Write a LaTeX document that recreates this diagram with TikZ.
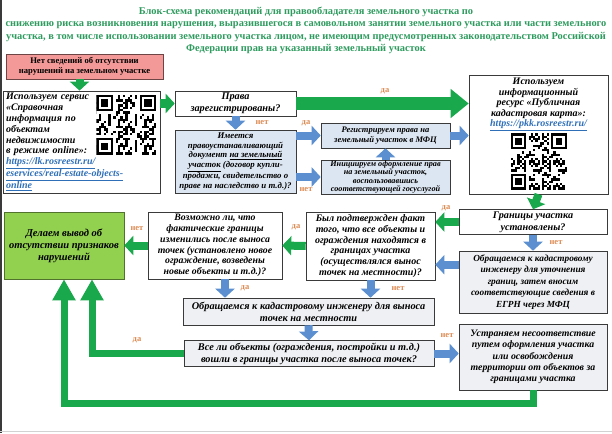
\documentclass[tikz,border=0pt]{standalone}
\usepackage{fontspec}
\setmainfont{Liberation Serif}
\usepackage{tikz}
\usetikzlibrary{positioning,arrows.meta,calc}
\definecolor{titlegreen}{HTML}{2E9B5E}
\definecolor{flowgreen}{HTML}{19A84C}
\definecolor{flowblue}{HTML}{5B8FD0}
\definecolor{bluewash}{HTML}{DCE6F2}
\definecolor{graywash}{HTML}{EEF0F3}
\definecolor{leafgreen}{HTML}{92D050}
\definecolor{alarm}{HTML}{F39A98}
\definecolor{answer}{HTML}{DC8A52}
\definecolor{edge}{HTML}{3A3A3A}
\definecolor{linkblue}{HTML}{2F6FB8}
\newcommand{\weblink}[1]{{\color{linkblue}\underline{#1}}}
\tikzset{
  card/.style n args={2}{draw=edge,line width=0.6pt,align=center,inner sep=2pt,
    font=\bfseries\itshape\fontsize{#1}{#2}\selectfont},
  answ/.style={text=answer,font=\bfseries\fontsize{8.5}{9}\selectfont,inner sep=0pt},
  flowg/.style={draw=flowgreen,line width=8pt,-{Triangle[length=9pt,width=19pt]}},
  flowb/.style={draw=flowblue,line width=8pt,-{Triangle[length=9pt,width=19pt]}},
  bigflow/.style={draw=flowgreen,line width=13pt,-{Triangle[length=18pt,width=28pt]}},
  backflow/.style={draw=flowgreen,line width=7pt,-{Triangle[length=21pt,width=22pt]}},
  pics/qr/.style={code={
    \begin{scope}
    \clip (0,0) rectangle (25,25);
    \fill[white] (0,0) rectangle (25,25);
    \foreach \i in {0,...,24}{
      \foreach \j in {0,...,24}{
        \pgfmathtruncatemacro\qrbit{mod(\i*\i*7+\j*\j*3+\i*\j*5+\i+#1*\j,11)<5}
        \ifnum\qrbit=1 \fill[black] (\i,\j) rectangle ++(1,1);\fi
      }
    }
    \foreach \fx/\fy in {0/0,18/0,0/18}{
      \fill[white] (\fx-1,\fy-1) rectangle ++(9,9);
      \fill[black] (\fx,\fy) rectangle ++(7,7);
      \fill[white] (\fx+1,\fy+1) rectangle ++(5,5);
      \fill[black] (\fx+2,\fy+2) rectangle ++(3,3);
    }
    \end{scope}
  }}
}

\begin{document}
\begin{tikzpicture}[x=1pt,y=-1pt]
\useasboundingbox (0,0) rectangle (612,433);
\draw[edge,line width=1.5pt] (0.75,0) -- (0.75,433);
\draw[gray!35,line width=1pt] (0,431) -- (612,431);

\node[text=titlegreen,font=\bfseries\fontsize{10.4}{12.4}\selectfont,align=center] (title) at (306,30.5)
  {Блок-схема рекомендаций для правообладателя земельного участка по\\
   снижению риска возникновения нарушения, выразившегося в самовольном занятии земельного участка или части земельного\\
   участка, в том числе использовании земельного участка лицом, не имеющим предусмотренных законодательством Российской\\
   Федерации прав на указанный земельный участок};

\node[card={8.6}{10},font=\bfseries\fontsize{8.6}{10}\selectfont,fill=alarm,draw=alarm!45!black,minimum width=157pt,minimum height=25pt] (nodata) at (84.5,66.5)
  {Нет сведений об отсутствии\\нарушений на земельном участке};

\node[card={10}{10.9},align=left,inner xsep=3pt,text width=151pt,minimum height=100pt] (lookup) at (81.5,142)
  {Используем сервис\\«Справочная\\информация по\\объектам\\недвижимости\\в режиме online»:\\
   \weblink{https://lk.rosreestr.ru/}\\\weblink{eservices/real-estate-objects-}\\\weblink{online}};
\pic[scale=2.4] at ($(lookup.north east)+(-64,4)$) {qr=3};

\node[card={10.3}{12},minimum width=121pt,minimum height=25pt] (prava) at (235.5,103.5)
  {Права\\зарегистрированы?};
\node[card={8.8}{9.8},fill=bluewash,inner sep=1pt,minimum width=121pt,minimum height=63pt] (imeet) at (235.5,161.5)
  {Имеется\\правоустанавливающий\\документ \underline{на земельный}\\\underline{участок} (договор купли-\\продажи, свидетельство о\\праве на наследство и т.д.)?};
\node[card={8.5}{10.5},fill=bluewash,minimum width=129pt,minimum height=25pt] (reg) at (385.5,135.5)
  {Регистрируем права на\\земельный участок в МФЦ};
\node[card={8.2}{8.4},fill=bluewash,inner ysep=0.5pt,inner xsep=1pt,minimum width=129pt,minimum height=34pt] (init) at (385.5,177)
  {Инициируем оформление прав\\на земельный участок,\\воспользовавшись\\соответствующей госуслугой};

\node[card={10}{10.5},minimum width=139pt,minimum height=119pt] (cadmap) at (538.5,134.5) {};
\node[card={10}{10.5},draw=none,below=1pt of cadmap.north] (cadtext)
  {Используем\\информационный\\ресурс «Публичная\\кадастровая карта»:\\\weblink{https://pkk.rosreestr.ru/}};
\pic[scale=2.25] at ($(cadmap.south)+(-28,-61)$) {qr=7};

\node[card={10.2}{12},minimum width=148pt,minimum height=24pt] (gran) at (533,222)
  {Границы участка\\установлены?};
\node[card={9.3}{11.6},fill=graywash,minimum width=148pt,minimum height=62pt] (obr1) at (533,282)
  {Обращаемся к кадастровому\\инженеру для уточнения\\границ, затем вносим\\соответствующие сведения в\\ЕГРН через МФЦ};
\node[card={10}{10.8},minimum width=129pt,minimum height=68pt] (byl) at (370.5,246)
  {Был подтвержден факт\\того, что все объекты и\\ограждения находятся в\\границах участка\\(осуществлялся вынос\\точек на местности)?};
\node[card={9.8}{10.8},minimum width=134pt,minimum height=67pt] (voz) at (215,245.5)
  {Возможно ли, что\\фактические границы\\изменились после выноса\\точек (установлено новое\\ограждение, возведены\\новые объекты и т.д.)?};
\node[card={10.5}{12},fill=leafgreen,draw=leafgreen!55!black,minimum width=120pt,minimum height=67pt] (verdict) at (64,245.5)
  {Делаем вывод об\\отсутствии признаков\\нарушений};
\node[card={10.3}{12},fill=graywash,minimum width=251pt,minimum height=27pt] (obr2) at (308.5,311.5)
  {Обращаемся к кадастровому инженеру для выноса\\точек на местности};
\node[card={10.3}{12},fill=graywash,minimum width=250pt,minimum height=25pt] (vse) at (309,353.5)
  {Все ли объекты (ограждения, постройки и т.д.)\\вошли в границы участка после выноса точек?};
\node[card={9.8}{11.4},fill=graywash,minimum width=148pt,minimum height=66pt] (ustr) at (533,357)
  {Устраняем несоответствие\\путем оформления участка\\или освобождения\\территории от объектов за\\границами участка};

\draw[flowg] ([xshift=-5]nodata.south) -- ([xshift=-5]nodata.south |- lookup.north);
\draw[flowg] (lookup.east |- prava.west) -- (prava.west);
\draw[bigflow] (prava.east) -- (prava.east -| cadmap.west);
\draw[flowb] (prava.south) -- (imeet.north);
\draw[flowb] (imeet.east |- reg.west) -- (reg.west);
\draw[flowb] (imeet.east |- init.west) -- (init.west);
\draw[flowb] (init.north) -- (reg.south);
\draw[flowb] (reg.east) -- (reg.east -| cadmap.west);
\draw[flowg] (cadmap.south) -- (gran.north);
\draw[flowg] (gran.west) -- (gran.west -| byl.east);
\draw[flowb] (gran.south) -- (obr1.north);
\draw[flowb] ([yshift=-14]obr1.north west) -- ([yshift=-14]obr1.north west -| byl.east);
\draw[flowg] (byl.west) -- (voz.east);
\draw[flowg] (voz.west) -- (verdict.east);
\draw[flowb] (byl.south) -- (byl.south |- obr2.north);
\draw[flowb] ([xshift=10]voz.south) -- ([xshift=10]voz.south |- obr2.north);
\draw[flowb] (obr2.south) -- (vse.north);
\draw[flowb] (vse.east) -- (vse.east -| ustr.west);
\draw[backflow] (vse.west) -| ([xshift=28]verdict.south);
\draw[backflow] (ustr.south) -- ++(0,13) -| (verdict.south);

\node[answ] (yes1) at (385,91) {да};
\node[answ] (no1) at (262,123) {нет};
\node[answ] (yes2) at (306,123) {да};
\node[answ] (no2) at (306,190) {нет};
\node[answ] (yes3) at (446,208) {да};
\node[answ] (no3) at (556,243) {нет};
\node[answ] (yes4) at (296,227) {да};
\node[answ] (no4) at (137,229) {нет};
\node[answ] (no5) at (398,289) {нет};
\node[answ] (yes5) at (245,288) {да};
\node[answ] (no6) at (447,336) {нет};
\node[answ] (yes6) at (137,340) {да};
\end{tikzpicture}
\end{document}
